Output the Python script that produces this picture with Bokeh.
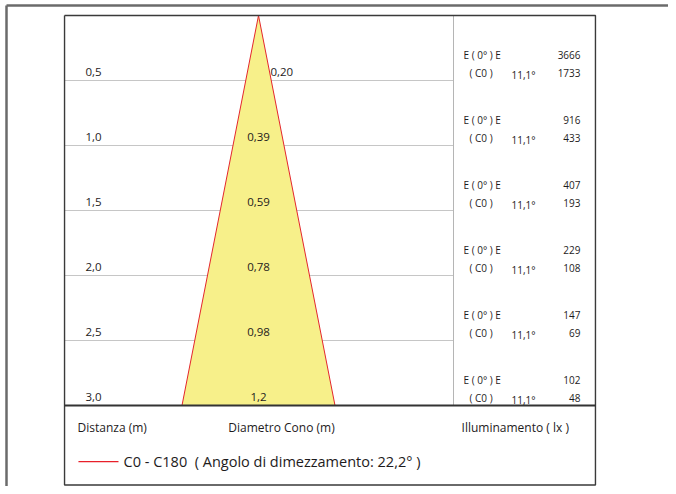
import math
from bokeh.plotting import figure
from bokeh.models import Range1d
from bokeh.core.properties import value
from bokeh.embed import file_html
from bokeh.resources import INLINE

# ---- data ----
distances = [0.5, 1.0, 1.5, 2.0, 2.5, 3.0]
dist_labels = ["0,5", "1,0", "1,5", "2,0", "2,5", "3,0"]
diam_labels = ["0,20", "0,39", "0,59", "0,78", "0,98", "1,2"]
e_center = [3666, 916, 407, 229, 147, 102]
e_half = [1733, 433, 193, 108, 69, 48]
half_angle = 11.1
half_angle_label = "11,1°"
legend_label = "C0 - C180\u00a0 ( Angolo di dimezzamento: 22,2° )"

# ---- layout (metres; 130 px per metre, apex at top centre) ----
FONT = value("Open Sans")
TXT = "#1e1b1c"
W, H = 668, 486
PX = 130.0
apex_px_x, apex_px_y = 258, 15          # apex position inside the figure
x_lo = -apex_px_x / PX
x_hi = (W - apex_px_x) / PX
y_top = -apex_px_y / PX
y_bot = (H - apex_px_y) / PX

box_l, box_r = -1.492, 2.592
box_t, box_b = 0.0, 3.612
col_x = 1.5
d_max = distances[-1]
outer_x = (6 - apex_px_x) / PX
outer_y = (5 - apex_px_y) / PX

p = figure(width=W, height=H, output_backend="svg", toolbar_location=None,
           x_range=Range1d(x_lo, x_hi), y_range=Range1d(y_bot, y_top),
           min_border=0, outline_line_color=None)
p.axis.visible = False
p.grid.visible = False
p.background_fill_color = "white"

# outer page lines
p.segment(x0=[outer_x, outer_x], y0=[outer_y, outer_y],
          x1=[x_hi, outer_x], y1=[outer_y, y_bot],
          line_color="#6b6b6b", line_width=2.5)

# grid lines
p.segment(x0=[box_l] * (len(distances) - 1), y0=distances[:-1],
          x1=[col_x] * (len(distances) - 1), y1=distances[:-1],
          line_color="#c6c6c6", line_width=1)

# illuminance column separator
p.segment(x0=[col_x], y0=[box_t], x1=[col_x], y1=[d_max],
          line_color="#b5b5b5", line_width=1)

# cone
r = d_max * math.tan(math.radians(half_angle))
p.patch(x=[0, r, -r], y=[0, d_max, d_max], fill_color="#f7f08a",
        line_color="#e3262d", line_width=1)

# inner box and separator
p.line(x=[box_l, box_r, box_r, box_l, box_l],
       y=[box_t, box_t, box_b, box_b, box_t],
       line_color="#3a3a3a", line_width=1.4)
p.segment(x0=[box_l], y0=[d_max], x1=[box_r], y1=[d_max],
          line_color="#333333", line_width=2)

# distance labels
p.text(x=[-1.331] * len(distances), y=[d - 0.062 for d in distances],
       text=dist_labels, text_font=FONT, text_font_size="11.5px",
       text_color=TXT, text_baseline="middle", text_align="left")

# diameter labels
diam_x = [0.092, 0, 0, 0, 0, 0]
diam_align = ["left", "center", "center", "center", "center", "center"]
p.text(x=diam_x, y=[d - 0.062 for d in distances], text=diam_labels,
       text_align=diam_align, text_font=FONT, text_font_size="11.5px",
       text_color=TXT, text_baseline="middle")

# illuminance blocks
n = len(distances)
row1 = [d - 0.2 for d in distances]
row2 = [d - 0.054 for d in distances]
fs = "10px"
p.text(x=[1.577] * n, y=row1, text=["E ( 0° ) E"] * n, text_font=FONT,
       text_font_size=fs, text_color=TXT, text_baseline="middle")
p.text(x=[1.623] * n, y=row2, text=["( C0 )"] * n, text_font=FONT,
       text_font_size=fs, text_color=TXT, text_baseline="middle")
p.text(x=[1.946] * n, y=[y + 0.01 for y in row2], text=[half_angle_label] * n,
       text_font=FONT, text_font_size=fs, text_color=TXT,
       text_baseline="middle")
p.text(x=[2.477] * n, y=row1, text=[str(v) for v in e_center], text_font=FONT,
       text_font_size=fs, text_color=TXT, text_baseline="middle",
       text_align="right")
p.text(x=[2.477] * n, y=row2, text=[str(v) for v in e_half], text_font=FONT,
       text_font_size=fs, text_color=TXT, text_baseline="middle",
       text_align="right")

# headings
p.text(x=[-1.392], y=[3.169], text=["Distanza (m)"], text_font=FONT,
       text_font_size="12px", text_color=TXT, text_baseline="middle")
p.text(x=[0.177], y=[3.169], text=["Diametro Cono (m)"], text_font=FONT,
       text_font_size="12px", text_color=TXT, text_baseline="middle",
       text_align="center")
p.text(x=[1.562], y=[3.169], text=["Illuminamento ( lx )"], text_font=FONT,
       text_font_size="12px", text_color=TXT, text_baseline="middle")

# legend
p.segment(x0=[-1.385], y0=[3.431], x1=[-1.077], y1=[3.431],
          line_color="#e8202a", line_width=1.2)
p.text(x=[-1.038], y=[3.431], text=[legend_label], text_font=FONT,
       text_font_size="14.5px", text_color=TXT, text_baseline="middle")

open("out.html", "w").write(file_html(p, INLINE))
